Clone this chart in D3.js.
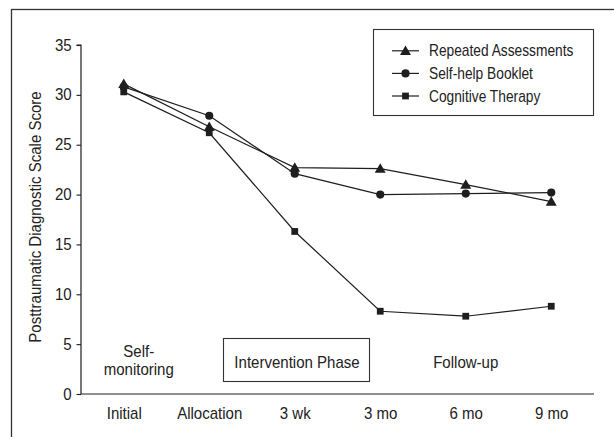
<!DOCTYPE html>
<html>
<head>
<meta charset="utf-8">
<script src="https://cdn.jsdelivr.net/npm/d3@7/dist/d3.min.js"></script>
<style>
  html, body { margin: 0; padding: 0; background: #fff; }
  svg { display: block; }
  text { font-family: "Liberation Sans", Arial, "Helvetica Neue", sans-serif; fill: #222; font-size: 16px; }
</style>
</head>
<body>
<svg id="chart" width="614" height="437"></svg>
<script>
// Assessment time points
const timepoints = ["Initial", "Allocation", "3 wk", "3 mo", "6 mo", "9 mo"];

// Mean PDS scores per group
const repeatedAssessments = [31.1, 26.8, 22.7, 22.6, 21.0, 19.3];
const selfHelpBooklet     = [30.8, 27.9, 22.1, 20.0, 20.1, 20.2];
const cognitiveTherapy    = [30.3, 26.2, 16.3, 8.3, 7.8, 8.8];

const seriesNames = ["Repeated Assessments", "Self-help Booklet", "Cognitive Therapy"];
const yTicks = [0, 5, 10, 15, 20, 25, 30, 35];

const series = [
  { name: seriesNames[0], values: repeatedAssessments, symbol: d3.symbolTriangle, size: 52 },
  { name: seriesNames[1], values: selfHelpBooklet,     symbol: d3.symbolCircle,   size: 52 },
  { name: seriesNames[2], values: cognitiveTherapy,    symbol: d3.symbolSquare,   size: 46 }
];

const svg = d3.select("#chart");
const ink = "#1e1e1e";
const NARROW = 0.94;   // condensed look for the sans face

// Text placed at (px, py) and squeezed horizontally
function label(parent, px, py, str, anchor = "start", sx = NARROW) {
  return parent.append("text")
    .attr("transform", `translate(${px},${py}) scale(${sx},1)`)
    .attr("text-anchor", anchor)
    .text(str);
}

// Outer frame (runs off the right and bottom edges)
svg.append("rect")
  .attr("x", 11.5).attr("y", 9.5)
  .attr("width", 640).attr("height", 460)
  .attr("fill", "none").attr("stroke", "#333").attr("stroke-width", 1.3);

const x = d3.scalePoint().domain(timepoints).range([81, 594]).padding(0.5);
const y = d3.scaleLinear().domain([0, 35]).range([394, 45]);

// Y axis
const yAxis = d3.axisLeft(y).tickValues(yTicks).tickSize(4.5);
const gy = svg.append("g").attr("transform", "translate(81,0)").call(yAxis);
gy.select(".domain").attr("stroke", ink).attr("stroke-width", 1.2).attr("d", `M-4.5,${y(35)}H0V${y(0)}`);
gy.selectAll(".tick line").attr("stroke", ink).attr("stroke-width", 1.1);
gy.selectAll(".tick text")
  .attr("x", 0)
  .attr("transform", `translate(-9.3,0) scale(${NARROW},1)`)
  .style("font-size", "16px").attr("fill", ink);

// X axis (no tick marks)
const xAxis = d3.axisBottom(x).tickSize(0).tickPadding(14);
const gx = svg.append("g").attr("transform", `translate(0,${y(0)})`).call(xAxis);
gx.select(".domain").attr("stroke", ink).attr("stroke-width", 1.2).attr("d", `M81,0H594`);
gx.selectAll(".tick text")
  .attr("transform", `scale(${NARROW},1)`)
  .style("font-size", "16px").attr("fill", ink);

// Y axis title
svg.append("text")
  .attr("transform", `translate(40.5,217) rotate(-90) scale(${NARROW},1)`)
  .attr("text-anchor", "middle")
  .text("Posttraumatic Diagnostic Scale Score");

// Phase annotations
label(svg, x("Initial") + 15, 357, "Self-", "middle");
label(svg, x("Initial") + 15, 375, "monitoring", "middle");

svg.append("rect")
  .attr("x", 223.5).attr("y", 338.5).attr("width", 146).attr("height", 43)
  .attr("fill", "none").attr("stroke", "#333").attr("stroke-width", 1.1);
label(svg, 297, 367.5, "Intervention Phase", "middle");

label(svg, x("6 mo"), 367.5, "Follow-up", "middle");

// Lines and markers
const line = d3.line().x((d, i) => x(timepoints[i])).y(d => y(d));

series.forEach(s => {
  svg.append("path")
    .attr("d", line(s.values))
    .attr("fill", "none").attr("stroke", ink).attr("stroke-width", 1.2);
});
series.forEach(s => {
  svg.append("g").selectAll("path")
    .data(s.values)
    .join("path")
    .attr("transform", (d, i) => `translate(${x(timepoints[i])},${y(d) + (s.symbol === d3.symbolTriangle ? 1 : 0)})`)
    .attr("d", d3.symbol(s.symbol, s.size))
    .attr("fill", ink);
});

// Legend
const lg = svg.append("g");
lg.append("rect")
  .attr("x", 373.5).attr("y", 29.5).attr("width", 220).attr("height", 86)
  .attr("fill", "#fff").attr("stroke", "#333").attr("stroke-width", 1.1);
series.forEach((s, i) => {
  const cy = 50.8 + i * 22.6;
  lg.append("line").attr("x1", 392).attr("x2", 419).attr("y1", cy).attr("y2", cy)
    .attr("stroke", ink).attr("stroke-width", 1.2);
  lg.append("path")
    .attr("transform", `translate(405.5,${cy + (s.symbol === d3.symbolTriangle ? 1 : 0)})`)
    .attr("d", d3.symbol(s.symbol, s.size))
    .attr("fill", ink);
  label(lg, 429, cy + 5.6, s.name, "start", 0.86);
});
</script>
</body>
</html>
